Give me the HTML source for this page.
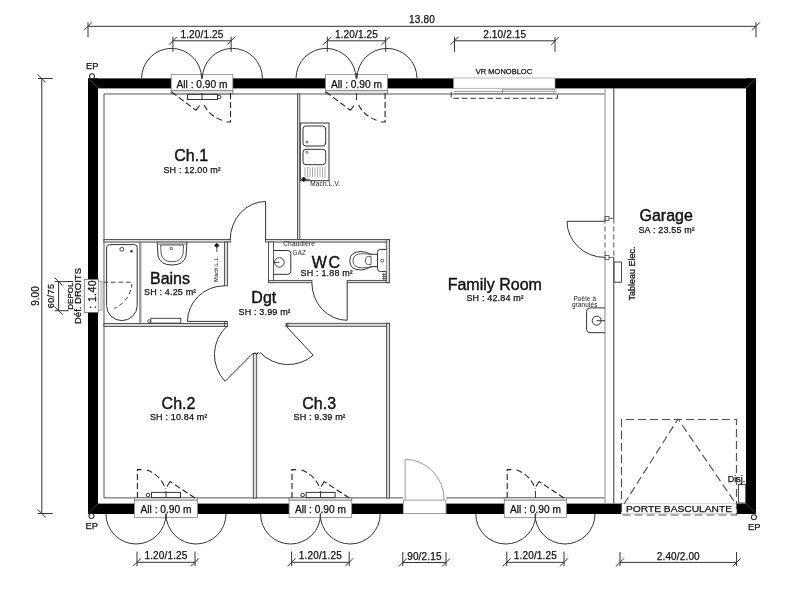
<!DOCTYPE html>
<html><head><meta charset="utf-8"><style>
html,body{margin:0;padding:0;background:#fff;width:800px;height:600px;overflow:hidden}
svg{display:block}
text{font-family:"Liberation Sans", sans-serif;stroke:#111;stroke-width:0.25px}
svg{will-change:transform}
</style></head><body>
<svg width="800" height="600" viewBox="0 0 800 600">
<line x1="88" y1="26.3" x2="756" y2="26.3" stroke="#333" stroke-width="1" />
<line x1="88" y1="22.3" x2="88" y2="37.3" stroke="#333" stroke-width="1" />
<line x1="84" y1="30.3" x2="92" y2="22.3" stroke="#333" stroke-width="1" />
<line x1="756" y1="22.3" x2="756" y2="37.3" stroke="#333" stroke-width="1" />
<line x1="752" y1="30.3" x2="760" y2="22.3" stroke="#333" stroke-width="1" />
<text x="422" y="23" font-size="10" text-anchor="middle" fill="#111" letter-spacing="0.15">13.80</text>
<line x1="41.8" y1="78.5" x2="41.8" y2="513.5" stroke="#333" stroke-width="1" />
<line x1="37.8" y1="78.5" x2="52.8" y2="78.5" stroke="#333" stroke-width="1" />
<line x1="37.8" y1="74.5" x2="45.8" y2="82.5" stroke="#333" stroke-width="1" />
<line x1="37.8" y1="513.5" x2="52.8" y2="513.5" stroke="#333" stroke-width="1" />
<line x1="37.8" y1="509.5" x2="45.8" y2="517.5" stroke="#333" stroke-width="1" />
<text x="38.5" y="296" font-size="10" text-anchor="middle" fill="#111" transform="rotate(-90 38.5 296)" >9.00</text>
<path d="M104,498 L104,94 L604.5,94" stroke="#555" stroke-width="1" fill="none"/>
<line x1="104" y1="497.9" x2="403.3" y2="497.9" stroke="#555" stroke-width="1" />
<line x1="445.9" y1="497.9" x2="604.5" y2="497.9" stroke="#555" stroke-width="1" />
<rect x="88" y="78.4" width="83.6" height="10.0" fill="#000" />
<rect x="232.4" y="78.4" width="93.6" height="10.0" fill="#000" />
<rect x="387" y="78.4" width="66.69999999999999" height="10.0" fill="#000" />
<rect x="555" y="78.4" width="201" height="10.0" fill="#000" />
<rect x="88" y="503.6" width="48" height="10.399999999999977" fill="#000" />
<rect x="196" y="503.6" width="94.60000000000002" height="10.399999999999977" fill="#000" />
<rect x="350.2" y="503.6" width="52.80000000000001" height="10.399999999999977" fill="#000" />
<rect x="446.2" y="503.6" width="59.60000000000002" height="10.399999999999977" fill="#000" />
<rect x="565" y="503.6" width="56" height="10.399999999999977" fill="#000" />
<rect x="736.7" y="503.6" width="19.299999999999955" height="10.399999999999977" fill="#000" />
<rect x="88" y="78.4" width="10" height="204.1" fill="#000" />
<rect x="88" y="310" width="10" height="204.0" fill="#000" />
<rect x="746" y="78.4" width="10" height="435.6" fill="#000" />
<line x1="88" y1="78" x2="98" y2="88" stroke="#555" stroke-width="0.7" />
<line x1="756" y1="78" x2="746" y2="88" stroke="#555" stroke-width="0.7" />
<line x1="88" y1="513.5" x2="98" y2="503.5" stroke="#555" stroke-width="0.7" />
<line x1="756" y1="513.5" x2="746" y2="503.5" stroke="#555" stroke-width="0.7" />
<rect x="171.2" y="74.4" width="61.60000000000001" height="19.4" fill="#fff" stroke="#888" stroke-width="0.8" />
<rect x="171.2" y="90.5" width="61.60000000000001" height="3.3" fill="#e4e4e4" stroke="#777" stroke-width="0.8" />
<text x="202.0" y="87.6" font-size="10.2" text-anchor="middle" fill="#111" >All : 0.90 m</text>
<path d="M141.6,78.4 A30,30 0 0 1 201.6,78.4" stroke="#333" stroke-width="1" fill="none"/>
<path d="M202.4,78.4 A30,30 0 0 1 262.4,78.4" stroke="#333" stroke-width="1" fill="none"/>
<line x1="202.0" y1="73" x2="202.0" y2="79" stroke="#444" stroke-width="0.9" />
<line x1="172.9" y1="40.8" x2="231.1" y2="40.8" stroke="#333" stroke-width="1" />
<line x1="172.9" y1="36.8" x2="172.9" y2="51.8" stroke="#333" stroke-width="1" />
<line x1="168.9" y1="44.8" x2="176.9" y2="36.8" stroke="#333" stroke-width="1" />
<line x1="231.1" y1="36.8" x2="231.1" y2="51.8" stroke="#333" stroke-width="1" />
<line x1="227.1" y1="44.8" x2="235.1" y2="36.8" stroke="#333" stroke-width="1" />
<text x="202.0" y="37.7" font-size="10" text-anchor="middle" fill="#111" letter-spacing="0.15">1.20/1.25</text>
<path d="M171.6,92 L196.0,110.3" stroke="#222" stroke-width="1.1" fill="none" stroke-dasharray="6,3"/>
<path d="M196.0,110.3 L199.6,105.5" stroke="#222" stroke-width="1.1" fill="none"/>
<path d="M230.5,93 L230.5,122 L226.4,122" stroke="#222" stroke-width="1.1" fill="none" stroke-dasharray="6,3"/>
<path d="M221.88,120.21 A29.5,29.5 0 0 1 203.55,104.00" stroke="#222" stroke-width="1.1" fill="none" stroke-dasharray="6,3"/>
<line x1="202.0" y1="93" x2="202.0" y2="100" stroke="#333" stroke-width="1" />
<rect x="187.5" y="94.4" width="30" height="5.1" fill="#fff" stroke="#333" stroke-width="1" />
<line x1="202.0" y1="94.4" x2="202.0" y2="99.5" stroke="#333" stroke-width="1" />
<circle cx="219.2" cy="97" r="1.8" stroke="#333" stroke-width="1" fill="none"/>
<rect x="325.6" y="74.4" width="61.8" height="19.4" fill="#fff" stroke="#888" stroke-width="0.8" />
<rect x="325.6" y="90.5" width="61.8" height="3.3" fill="#e4e4e4" stroke="#777" stroke-width="0.8" />
<text x="356.5" y="87.6" font-size="10.2" text-anchor="middle" fill="#111" >All : 0.90 m</text>
<path d="M296,78.4 A30,30 0 0 1 356,78.4" stroke="#333" stroke-width="1" fill="none"/>
<path d="M357,78.4 A30,30 0 0 1 417,78.4" stroke="#333" stroke-width="1" fill="none"/>
<line x1="356.5" y1="73" x2="356.5" y2="79" stroke="#444" stroke-width="0.9" />
<line x1="327.3" y1="40.8" x2="385.7" y2="40.8" stroke="#333" stroke-width="1" />
<line x1="327.3" y1="36.8" x2="327.3" y2="51.8" stroke="#333" stroke-width="1" />
<line x1="323.3" y1="44.8" x2="331.3" y2="36.8" stroke="#333" stroke-width="1" />
<line x1="385.7" y1="36.8" x2="385.7" y2="51.8" stroke="#333" stroke-width="1" />
<line x1="381.7" y1="44.8" x2="389.7" y2="36.8" stroke="#333" stroke-width="1" />
<text x="356.5" y="37.7" font-size="10" text-anchor="middle" fill="#111" letter-spacing="0.15">1.20/1.25</text>
<path d="M326,92 L350.4,110.3" stroke="#222" stroke-width="1.1" fill="none" stroke-dasharray="6,3"/>
<path d="M350.4,110.3 L354,105.5" stroke="#222" stroke-width="1.1" fill="none"/>
<path d="M385.1,93 L385.1,122 L381,122" stroke="#222" stroke-width="1.1" fill="none" stroke-dasharray="6,3"/>
<path d="M376.48,120.21 A29.5,29.5 0 0 1 358.15,104.00" stroke="#222" stroke-width="1.1" fill="none" stroke-dasharray="6,3"/>
<line x1="356.5" y1="93" x2="356.5" y2="100" stroke="#333" stroke-width="1" />
<rect x="134.5" y="497.6" width="63" height="19.8" fill="#fff" stroke="#888" stroke-width="0.8" />
<rect x="134.5" y="497.6" width="63" height="2.6" fill="#d8d8d8" stroke="#777" stroke-width="0.8" />
<text x="166.0" y="512.8" font-size="10.2" text-anchor="middle" fill="#111" >All : 0.90 m</text>
<path d="M106,514.0 A30,30 0 0 0 166,514.0" stroke="#333" stroke-width="1" fill="none"/>
<path d="M166,514.0 A30,30 0 0 0 226,514.0" stroke="#333" stroke-width="1" fill="none"/>
<line x1="166.0" y1="513" x2="166.0" y2="520" stroke="#444" stroke-width="0.9" />
<line x1="137" y1="562.3" x2="195" y2="562.3" stroke="#333" stroke-width="1" />
<line x1="137" y1="551.5999999999999" x2="137" y2="566.1999999999999" stroke="#333" stroke-width="1" />
<line x1="133" y1="566.3" x2="141" y2="558.3" stroke="#333" stroke-width="1" />
<line x1="195" y1="551.5999999999999" x2="195" y2="566.1999999999999" stroke="#333" stroke-width="1" />
<line x1="191" y1="566.3" x2="199" y2="558.3" stroke="#333" stroke-width="1" />
<text x="166.0" y="559.4" font-size="10" text-anchor="middle" fill="#111" letter-spacing="0.15">1.20/1.25</text>
<path d="M137.4,498 L137.4,469.6 L141.5,469.6" stroke="#222" stroke-width="1.1" fill="none" stroke-dasharray="6,3"/>
<path d="M146.76,470.02 A29.5,29.5 0 0 1 165.46,488.88" stroke="#222" stroke-width="1.1" fill="none" stroke-dasharray="6,3"/>
<path d="M195,498 L170,481.5" stroke="#222" stroke-width="1.1" fill="none" stroke-dasharray="6,3"/>
<path d="M170,481.5 L167,486.5" stroke="#222" stroke-width="1.1" fill="none"/>
<line x1="166.0" y1="491" x2="166.0" y2="498" stroke="#333" stroke-width="1" />
<rect x="151.5" y="492.4" width="29" height="5.2" fill="#fff" stroke="#333" stroke-width="1" />
<line x1="166" y1="492.4" x2="166" y2="497.6" stroke="#333" stroke-width="1" />
<circle cx="148" cy="495" r="1.8" stroke="#333" stroke-width="1" fill="none"/>
<rect x="289.1" y="497.6" width="62.599999999999966" height="19.8" fill="#fff" stroke="#888" stroke-width="0.8" />
<rect x="289.1" y="497.6" width="62.599999999999966" height="2.6" fill="#d8d8d8" stroke="#777" stroke-width="0.8" />
<text x="320.4" y="512.8" font-size="10.2" text-anchor="middle" fill="#111" >All : 0.90 m</text>
<path d="M260.6,514.0 A30,30 0 0 0 320.6,514.0" stroke="#333" stroke-width="1" fill="none"/>
<path d="M320.2,514.0 A30,30 0 0 0 380.2,514.0" stroke="#333" stroke-width="1" fill="none"/>
<line x1="320.4" y1="513" x2="320.4" y2="520" stroke="#444" stroke-width="0.9" />
<line x1="291.6" y1="562.3" x2="349.2" y2="562.3" stroke="#333" stroke-width="1" />
<line x1="291.6" y1="551.5999999999999" x2="291.6" y2="566.1999999999999" stroke="#333" stroke-width="1" />
<line x1="287.6" y1="566.3" x2="295.6" y2="558.3" stroke="#333" stroke-width="1" />
<line x1="349.2" y1="551.5999999999999" x2="349.2" y2="566.1999999999999" stroke="#333" stroke-width="1" />
<line x1="345.2" y1="566.3" x2="353.2" y2="558.3" stroke="#333" stroke-width="1" />
<text x="320.4" y="559.4" font-size="10" text-anchor="middle" fill="#111" letter-spacing="0.15">1.20/1.25</text>
<path d="M292.0,498 L292.0,469.6 L296.1,469.6" stroke="#222" stroke-width="1.1" fill="none" stroke-dasharray="6,3"/>
<path d="M301.36,470.02 A29.5,29.5 0 0 1 320.06,488.88" stroke="#222" stroke-width="1.1" fill="none" stroke-dasharray="6,3"/>
<path d="M349.2,498 L324.2,481.5" stroke="#222" stroke-width="1.1" fill="none" stroke-dasharray="6,3"/>
<path d="M324.2,481.5 L321.2,486.5" stroke="#222" stroke-width="1.1" fill="none"/>
<line x1="320.4" y1="491" x2="320.4" y2="498" stroke="#333" stroke-width="1" />
<rect x="306.1" y="492.4" width="29" height="5.2" fill="#fff" stroke="#333" stroke-width="1" />
<line x1="320.6" y1="492.4" x2="320.6" y2="497.6" stroke="#333" stroke-width="1" />
<circle cx="302.6" cy="495" r="1.8" stroke="#333" stroke-width="1" fill="none"/>
<rect x="504.3" y="497.6" width="62.19999999999999" height="19.8" fill="#fff" stroke="#888" stroke-width="0.8" />
<rect x="504.3" y="497.6" width="62.19999999999999" height="2.6" fill="#d8d8d8" stroke="#777" stroke-width="0.8" />
<text x="535.4" y="512.8" font-size="10.2" text-anchor="middle" fill="#111" >All : 0.90 m</text>
<path d="M475.8,514.0 A30,30 0 0 0 535.8,514.0" stroke="#333" stroke-width="1" fill="none"/>
<path d="M535,514.0 A30,30 0 0 0 595,514.0" stroke="#333" stroke-width="1" fill="none"/>
<line x1="535.4" y1="513" x2="535.4" y2="520" stroke="#444" stroke-width="0.9" />
<line x1="506.8" y1="562.3" x2="564" y2="562.3" stroke="#333" stroke-width="1" />
<line x1="506.8" y1="551.5999999999999" x2="506.8" y2="566.1999999999999" stroke="#333" stroke-width="1" />
<line x1="502.8" y1="566.3" x2="510.8" y2="558.3" stroke="#333" stroke-width="1" />
<line x1="564" y1="551.5999999999999" x2="564" y2="566.1999999999999" stroke="#333" stroke-width="1" />
<line x1="560" y1="566.3" x2="568" y2="558.3" stroke="#333" stroke-width="1" />
<text x="535.4" y="559.4" font-size="10" text-anchor="middle" fill="#111" letter-spacing="0.15">1.20/1.25</text>
<path d="M507.2,498 L507.2,469.6 L511.3,469.6" stroke="#222" stroke-width="1.1" fill="none" stroke-dasharray="6,3"/>
<path d="M516.56,470.02 A29.5,29.5 0 0 1 535.26,488.88" stroke="#222" stroke-width="1.1" fill="none" stroke-dasharray="6,3"/>
<path d="M564,498 L539,481.5" stroke="#222" stroke-width="1.1" fill="none" stroke-dasharray="6,3"/>
<path d="M539,481.5 L536,486.5" stroke="#222" stroke-width="1.1" fill="none"/>
<line x1="535.4" y1="491" x2="535.4" y2="498" stroke="#333" stroke-width="1" />
<rect x="453.7" y="78" width="101.3" height="10.3" fill="#fff" stroke="#999" stroke-width="0.7" />
<line x1="453.7" y1="91.3" x2="555" y2="91.3" stroke="#777" stroke-width="0.8" />
<line x1="453.7" y1="93.5" x2="555" y2="93.5" stroke="#777" stroke-width="0.8" />
<rect x="502.5" y="89.5" width="52.5" height="4" fill="none" stroke="#888" stroke-width="0.7" />
<path d="M451.2,92 L451.2,98.3 L557.4,98.3 L557.4,92" stroke="#333" stroke-width="1" fill="none" stroke-dasharray="5.5,3"/>
<text x="504" y="74.4" font-size="7.5" text-anchor="middle" fill="#111" >VR MONOBLOC</text>
<line x1="454.5" y1="40.8" x2="555" y2="40.8" stroke="#333" stroke-width="1" />
<line x1="454.5" y1="36.8" x2="454.5" y2="51.8" stroke="#333" stroke-width="1" />
<line x1="450.5" y1="44.8" x2="458.5" y2="36.8" stroke="#333" stroke-width="1" />
<line x1="555" y1="36.8" x2="555" y2="51.8" stroke="#333" stroke-width="1" />
<line x1="551" y1="44.8" x2="559" y2="36.8" stroke="#333" stroke-width="1" />
<text x="504.75" y="37.7" font-size="10" text-anchor="middle" fill="#111" letter-spacing="0.15">2.10/2.15</text>
<circle cx="92" cy="76.3" r="2.5" stroke="#333" stroke-width="1.1" fill="#fff"/>
<text x="92.2" y="68.9" font-size="9.3" text-anchor="middle" fill="#111" >EP</text>
<circle cx="91.5" cy="516" r="2.5" stroke="#333" stroke-width="1.1" fill="#fff"/>
<text x="91.8" y="529.4" font-size="9.3" text-anchor="middle" fill="#111" >EP</text>
<circle cx="753.9" cy="517.2" r="2.5" stroke="#333" stroke-width="1.1" fill="#fff"/>
<text x="754.2" y="530.3" font-size="9.3" text-anchor="middle" fill="#111" >EP</text>
<rect x="104" y="239.5" width="126.2" height="2.6" fill="#dcdcdc" stroke="#444" stroke-width="0.9" />
<rect x="265.6" y="239.5" width="124" height="2.6" fill="#dcdcdc" stroke="#444" stroke-width="0.9" />
<rect x="297.6" y="94" width="2.2" height="145.5" fill="#dcdcdc" stroke="#444" stroke-width="0.9" />
<rect x="268.5" y="242" width="5" height="40.6" fill="#fff" stroke="#444" stroke-width="0.9" />
<rect x="268.5" y="280.4" width="43.4" height="2.3" fill="#dcdcdc" stroke="#444" stroke-width="0.9" />
<rect x="347.2" y="280.4" width="42.2" height="2.3" fill="#dcdcdc" stroke="#444" stroke-width="0.9" />
<rect x="386.3" y="239.5" width="3.1" height="43.2" fill="#dcdcdc" stroke="#444" stroke-width="0.9" />
<rect x="224.4" y="242" width="3.2" height="43.8" fill="#dcdcdc" stroke="#444" stroke-width="0.9" />
<rect x="104" y="323.5" width="123.5" height="2.9" fill="#dcdcdc" stroke="#444" stroke-width="0.9" />
<rect x="224.5" y="321.4" width="3" height="5.1" fill="none" stroke="#444" stroke-width="0.8" />
<rect x="253.3" y="353.5" width="3.4" height="144.5" fill="#dcdcdc" stroke="#444" stroke-width="0.9" />
<rect x="286" y="323.3" width="103.6" height="3.0" fill="#dcdcdc" stroke="#444" stroke-width="0.9" />
<rect x="386.6" y="323.3" width="3.0" height="174.7" fill="#dcdcdc" stroke="#444" stroke-width="0.9" />
<line x1="140" y1="242" x2="140" y2="323.5" stroke="#444" stroke-width="1" />
<line x1="141.4" y1="242" x2="141.4" y2="323.5" stroke="#aaa" stroke-width="0.7" />
<line x1="605" y1="88" x2="605" y2="218.5" stroke="#888" stroke-width="1" />
<line x1="605" y1="257.4" x2="605" y2="503.5" stroke="#888" stroke-width="1" />
<line x1="613.8" y1="88" x2="613.8" y2="218.5" stroke="#333" stroke-width="1" />
<line x1="613.8" y1="257.4" x2="613.8" y2="503.5" stroke="#333" stroke-width="1" />
<line x1="605" y1="218.5" x2="605" y2="257.4" stroke="#555" stroke-width="1" stroke-dasharray="5,3" />
<line x1="613.8" y1="218.5" x2="613.8" y2="257.4" stroke="#555" stroke-width="1" stroke-dasharray="5,3" />
<rect x="605" y="216.5" width="4" height="4" fill="none" stroke="#444" stroke-width="0.8" />
<rect x="605" y="255.4" width="4" height="4" fill="none" stroke="#444" stroke-width="0.8" />
<line x1="609" y1="218.5" x2="613.8" y2="218.5" stroke="#444" stroke-width="0.8" />
<line x1="609" y1="257.4" x2="613.8" y2="257.4" stroke="#444" stroke-width="0.8" />
<path d="M265.6,240 L265.6,201.5 A35.4,38.5 0 0 0 230.2,240" stroke="#333" stroke-width="1" fill="none"/>
<path d="M311.9,282.8 A35.3,37.5 0 0 0 347.2,320.3 L347.2,282.8" stroke="#333" stroke-width="1" fill="none"/>
<path d="M224.4,285.8 A37,35.6 0 0 0 187.5,321.4 L227.5,321.4" stroke="#333" stroke-width="1" fill="none"/>
<path d="M227.01,326.21 A38.5,38.5 0 0 0 225.10,381.30 L253.6,352.8" stroke="#333" stroke-width="1" fill="none"/>
<path d="M286,326 L313.28,355.25 A38.5,38.5 0 0 1 260.30,352.62" stroke="#333" stroke-width="1" fill="none"/>
<path d="M253.3,354.6 L255,352.6 L256.7,354.6 L258.2,352.4 L259.8,354.2" stroke="#333" stroke-width="0.9" fill="none"/>
<path d="M289,323.3 L286,325 L289,326.3" stroke="#333" stroke-width="0.9" fill="none"/>
<path d="M605,221.3 L567,221.3 A38,36.1 0 0 0 605,257.4" stroke="#333" stroke-width="1" fill="none"/>
<rect x="403.3" y="500.1" width="42.6" height="13.5" fill="#fff" stroke="#888" stroke-width="0.8" />
<path d="M405.1,500 L405.1,459.3 A39,40.7 0 0 1 444.1,500" stroke="#999" stroke-width="1" fill="none"/>
<rect x="621.5" y="503.8" width="115" height="9.6" fill="#fff" stroke="#bbb" stroke-width="0.6" />
<path d="M621.5,504 L621.5,515 L736.5,515 L736.5,419.5 L621.5,419.5 L621.5,504" stroke="#555" stroke-width="1.2" fill="none" stroke-dasharray="8,4"/>
<path d="M624,504 L678,419 L736,504" stroke="#555" stroke-width="1.2" fill="none" stroke-dasharray="8,4"/>
<text x="679" y="511.6" font-size="9.3" text-anchor="middle" fill="#111" textLength="106" lengthAdjust="spacingAndGlyphs">PORTE BASCULANTE</text>
<line x1="620" y1="562.4" x2="736.6" y2="562.4" stroke="#333" stroke-width="1" />
<line x1="620" y1="552.0" x2="620" y2="566.0" stroke="#333" stroke-width="1" />
<line x1="616" y1="566.4" x2="624" y2="558.4" stroke="#333" stroke-width="1" />
<line x1="736.6" y1="552.0" x2="736.6" y2="566.0" stroke="#333" stroke-width="1" />
<line x1="732.6" y1="566.4" x2="740.6" y2="558.4" stroke="#333" stroke-width="1" />
<text x="678.3" y="560" font-size="10" text-anchor="middle" fill="#111" letter-spacing="0.15">2.40/2.00</text>
<line x1="402.8" y1="562.5" x2="446" y2="562.5" stroke="#333" stroke-width="1" />
<line x1="402.8" y1="552.0" x2="402.8" y2="566.0" stroke="#333" stroke-width="1" />
<line x1="398.8" y1="566.5" x2="406.8" y2="558.5" stroke="#333" stroke-width="1" />
<line x1="446" y1="552.0" x2="446" y2="566.0" stroke="#333" stroke-width="1" />
<line x1="442" y1="566.5" x2="450" y2="558.5" stroke="#333" stroke-width="1" />
<text x="424.4" y="559.5" font-size="10" text-anchor="middle" fill="#111" letter-spacing="0.15">90/2.15</text>
<rect x="738.4" y="484.4" width="7.3" height="18.6" fill="#fff" stroke="#333" stroke-width="0.9" />
<text x="736.5" y="482.4" font-size="9" text-anchor="middle" fill="#111" >Disj.</text>
<rect x="614.1" y="262" width="7.4" height="20.2" fill="#fff" stroke="#333" stroke-width="0.9" />
<text x="634.8" y="273.5" font-size="9" text-anchor="middle" fill="#111" transform="rotate(-90 634.8 273.5)" >Tableau Elec.</text>
<path d="M605,307.9 L590,307.9 Q586.6,307.9 586.6,311.3 L586.6,329.3 Q586.6,332.7 590,332.7 L605,332.7" stroke="#333" stroke-width="1" fill="none"/>
<circle cx="596.7" cy="320.7" r="4.5" stroke="#333" stroke-width="1" fill="none"/>
<line x1="596.7" y1="320.7" x2="605" y2="320.7" stroke="#333" stroke-width="1" />
<text x="584.8" y="301" font-size="6.3" text-anchor="middle" fill="#333" style="stroke-width:0.05px" letter-spacing="0.2">Poêle à</text>
<text x="584.8" y="306.6" font-size="6.3" text-anchor="middle" fill="#333" style="stroke-width:0.05px" letter-spacing="0.2">granulés</text>
<rect x="84.3" y="279.3" width="14" height="33.2" fill="#fff" stroke="#666" stroke-width="0.8" />
<rect x="98.3" y="281.2" width="3.7" height="29" fill="#fff" stroke="#888" stroke-width="0.7" />
<line x1="100.4" y1="281.2" x2="100.4" y2="310.2" stroke="#aaa" stroke-width="0.6" />
<text x="95.9" y="294.4" font-size="10.6" text-anchor="middle" fill="#111" transform="rotate(-90 95.9 294.4)" letter-spacing="0.35">: 1.40</text>
<line x1="58.6" y1="281.6" x2="58.6" y2="310.7" stroke="#333" stroke-width="1" />
<line x1="54.6" y1="281.6" x2="68.6" y2="281.6" stroke="#333" stroke-width="1" />
<line x1="54.6" y1="277.6" x2="62.6" y2="285.6" stroke="#333" stroke-width="1" />
<line x1="54.6" y1="310.7" x2="68.6" y2="310.7" stroke="#333" stroke-width="1" />
<line x1="54.6" y1="306.7" x2="62.6" y2="314.7" stroke="#333" stroke-width="1" />
<text x="54.4" y="295.9" font-size="9" text-anchor="middle" fill="#111" transform="rotate(-90 54.4 295.9)" letter-spacing="0.45">60/75</text>
<text x="72.8" y="295" font-size="8" text-anchor="middle" fill="#111" transform="rotate(-90 72.8 295)" >DEPOLI</text>
<text x="81.3" y="296" font-size="9.5" text-anchor="middle" fill="#111" transform="rotate(-90 81.3 296)" >Déf. DROITS</text>
<rect x="300.3" y="123" width="28.7" height="57.7" fill="#fff" stroke="#333" stroke-width="1" />
<rect x="303" y="126" width="22.7" height="20" fill="none" stroke="#333" stroke-width="1" rx="3" />
<rect x="303" y="149.3" width="22.7" height="15.4" fill="none" stroke="#333" stroke-width="1" rx="3" />
<circle cx="307" cy="142" r="1" stroke="#333" stroke-width="0.7" fill="none"/>
<circle cx="307" cy="152.4" r="1" stroke="#333" stroke-width="0.7" fill="none"/>
<line x1="305.0" y1="167.3" x2="305.0" y2="177.3" stroke="#777" stroke-width="0.6" />
<line x1="307.5" y1="167.3" x2="307.5" y2="177.3" stroke="#777" stroke-width="0.6" />
<line x1="310.0" y1="167.3" x2="310.0" y2="177.3" stroke="#777" stroke-width="0.6" />
<line x1="312.5" y1="167.3" x2="312.5" y2="177.3" stroke="#777" stroke-width="0.6" />
<line x1="315.0" y1="167.3" x2="315.0" y2="177.3" stroke="#777" stroke-width="0.6" />
<line x1="317.5" y1="167.3" x2="317.5" y2="177.3" stroke="#777" stroke-width="0.6" />
<line x1="320.0" y1="167.3" x2="320.0" y2="177.3" stroke="#777" stroke-width="0.6" />
<line x1="322.5" y1="167.3" x2="322.5" y2="177.3" stroke="#777" stroke-width="0.6" />
<line x1="325.0" y1="167.3" x2="325.0" y2="177.3" stroke="#777" stroke-width="0.6" />
<path d="M301.5,179.3 L303.7,177.1 L305.9,179.3 L303.7,181.5 Z" stroke="#111" stroke-width="0.8" fill="#111"/>
<line x1="303.7" y1="179.3" x2="310" y2="179.3" stroke="#333" stroke-width="0.8" />
<text x="310.3" y="186" font-size="6.4" text-anchor="start" fill="#333" style="stroke-width:0.05px" letter-spacing="0.2">Mach.L.V.</text>
<path d="M106.6,305.6 L106.6,247.6 Q106.6,244.6 109.6,244.6 L134.2,244.6 Q137.2,244.6 137.2,247.6 L137.2,305.6 A15.3,15 0 0 1 106.6,305.6 Z" stroke="#333" stroke-width="1" fill="none"/>
<circle cx="121.8" cy="249.3" r="1.9" stroke="#333" stroke-width="0.9" fill="none"/>
<rect x="130.4" y="250.2" width="2.2" height="2.2" fill="#222" />
<path d="M103.5,282.2 L131.7,282.2 L131.7,287.7" stroke="#444" stroke-width="1" fill="none" stroke-dasharray="4.5,3"/>
<path d="M130.61,289.97 A28.2,28.2 0 0 1 114.06,308.35" stroke="#444" stroke-width="1" fill="none" stroke-dasharray="4.5,3"/>
<path d="M157.2,242.3 L187,242.3 L186,256 Q184,265 172,265 Q160,265 158,256 Z" stroke="#333" stroke-width="1" fill="#fff"/>
<rect x="158" y="242.3" width="28" height="2.7" fill="#bbb" />
<path d="M160.6,245 L183.6,245 L183,254 Q181.5,261.8 172,261.8 Q162.5,261.8 161.2,254 Z" stroke="#333" stroke-width="0.8" fill="none"/>
<circle cx="171.3" cy="248.5" r="1.2" stroke="#333" stroke-width="0.8" fill="none"/>
<path d="M214.6,245.4 L216.8,243.2 L219,245.4 L216.8,247.6 Z" stroke="#111" stroke-width="0.7" fill="#111"/>
<line x1="216.8" y1="245.4" x2="216.8" y2="252" stroke="#333" stroke-width="0.8" />
<text x="218" y="268.7" font-size="5.6" text-anchor="middle" fill="#222" transform="rotate(-90 218 268.7)" style="stroke-width:0.05px" letter-spacing="0.2">Mach.L.L.</text>
<rect x="150.8" y="318.3" width="30" height="4.8" fill="#fff" stroke="#333" stroke-width="0.9" />
<circle cx="149.1" cy="321.2" r="1.5" stroke="#333" stroke-width="0.8" fill="none"/>
<path d="M273.4,250.5 L287.8,250.5 Q290.8,250.5 290.8,253.5 L290.8,271.3 Q290.8,274.3 287.8,274.3 L273.4,274.3" stroke="#333" stroke-width="1" fill="none"/>
<circle cx="279.4" cy="262.4" r="4.8" stroke="#333" stroke-width="0.9" fill="none"/>
<line x1="273.4" y1="262.4" x2="279.4" y2="262.4" stroke="#333" stroke-width="0.9" />
<text x="283.2" y="245.6" font-size="6.5" text-anchor="start" fill="#333" style="stroke-width:0.05px" letter-spacing="0.2">Chaudière</text>
<text x="292.6" y="255.4" font-size="6.3" text-anchor="start" fill="#333" style="stroke-width:0.05px" letter-spacing="0.2">GAZ</text>
<path d="M377.5,254.3 L371,254.3 Q365,251.5 361,251.5 Q349.8,251.5 349.8,260.8 Q349.8,270 361,270 Q365,270 371,266.7 L377.5,266.7" stroke="#333" stroke-width="1" fill="#fff"/>
<path d="M372,254.6 Q367,253.7 362,253.7 Q353,253.7 353,260.8 Q353,267.8 362,267.8 Q367,267.8 372,266.9" stroke="#333" stroke-width="0.8" fill="none"/>
<path d="M371,256.4 L368.5,256.4 Q365.5,256.4 365.5,260.5 Q365.5,264.6 368.5,264.6 L371,264.6 Z" stroke="#333" stroke-width="0.8" fill="none"/>
<path d="M386.3,249.4 L380.5,249.4 Q377.5,249.4 377.5,252.4 L377.5,268.6 Q377.5,271.6 380.5,271.6 L386.3,271.6" stroke="#333" stroke-width="1" fill="#fff"/>
<circle cx="382.2" cy="260.6" r="1.5" stroke="#333" stroke-width="0.8" fill="none"/>
<line x1="382" y1="274.5" x2="386" y2="274.5" stroke="#333" stroke-width="0.6" />
<line x1="382" y1="276.5" x2="386" y2="276.5" stroke="#333" stroke-width="0.6" />
<line x1="382" y1="278.5" x2="386" y2="278.5" stroke="#333" stroke-width="0.6" />
<line x1="383.5" y1="273" x2="383.5" y2="280" stroke="#333" stroke-width="0.6" />
<line x1="385" y1="273" x2="385" y2="280" stroke="#333" stroke-width="0.6" />
<text x="191.2" y="161" font-size="16" text-anchor="middle" fill="#111" style="stroke-width:0.4px">Ch.1</text>
<text x="192" y="172.8" font-size="9" text-anchor="middle" fill="#111" letter-spacing="0.17">SH : 12.00 m<tspan font-size="7.5">²</tspan></text>
<text x="170" y="283.5" font-size="16" text-anchor="middle" fill="#111" style="stroke-width:0.4px">Bains</text>
<text x="170" y="295.2" font-size="9" text-anchor="middle" fill="#111" letter-spacing="0.17">SH : 4.25 m<tspan font-size="7.5">²</tspan></text>
<text x="263.8" y="302.5" font-size="16" text-anchor="middle" fill="#111" style="stroke-width:0.4px">Dgt</text>
<text x="264.5" y="314.5" font-size="9" text-anchor="middle" fill="#111" letter-spacing="0.17">SH : 3.99 m<tspan font-size="7.5">²</tspan></text>
<text x="326.8" y="268.4" font-size="16" text-anchor="middle" fill="#111" style="stroke-width:0.4px" letter-spacing="1.6">WC</text>
<text x="326.6" y="276.2" font-size="9" text-anchor="middle" fill="#111" letter-spacing="0.17">SH : 1.88 m<tspan font-size="7.5">²</tspan></text>
<text x="494.8" y="289.5" font-size="16" text-anchor="middle" fill="#111" style="stroke-width:0.4px">Family Room</text>
<text x="495" y="301.1" font-size="9" text-anchor="middle" fill="#111" letter-spacing="0.17">SH : 42.84 m<tspan font-size="7.5">²</tspan></text>
<text x="178.5" y="408.7" font-size="16" text-anchor="middle" fill="#111" style="stroke-width:0.4px">Ch.2</text>
<text x="178.5" y="420.2" font-size="9" text-anchor="middle" fill="#111" letter-spacing="0.17">SH : 10.84 m<tspan font-size="7.5">²</tspan></text>
<text x="319.2" y="408.7" font-size="16" text-anchor="middle" fill="#111" style="stroke-width:0.4px">Ch.3</text>
<text x="319.5" y="420.2" font-size="9" text-anchor="middle" fill="#111" letter-spacing="0.17">SH : 9.39 m<tspan font-size="7.5">²</tspan></text>
<text x="666.2" y="220.8" font-size="16" text-anchor="middle" fill="#111" style="stroke-width:0.4px">Garage</text>
<text x="666.5" y="232.6" font-size="9" text-anchor="middle" fill="#111" letter-spacing="0.17">SA : 23.55 m<tspan font-size="7.5">²</tspan></text>
</svg>
</body></html>
